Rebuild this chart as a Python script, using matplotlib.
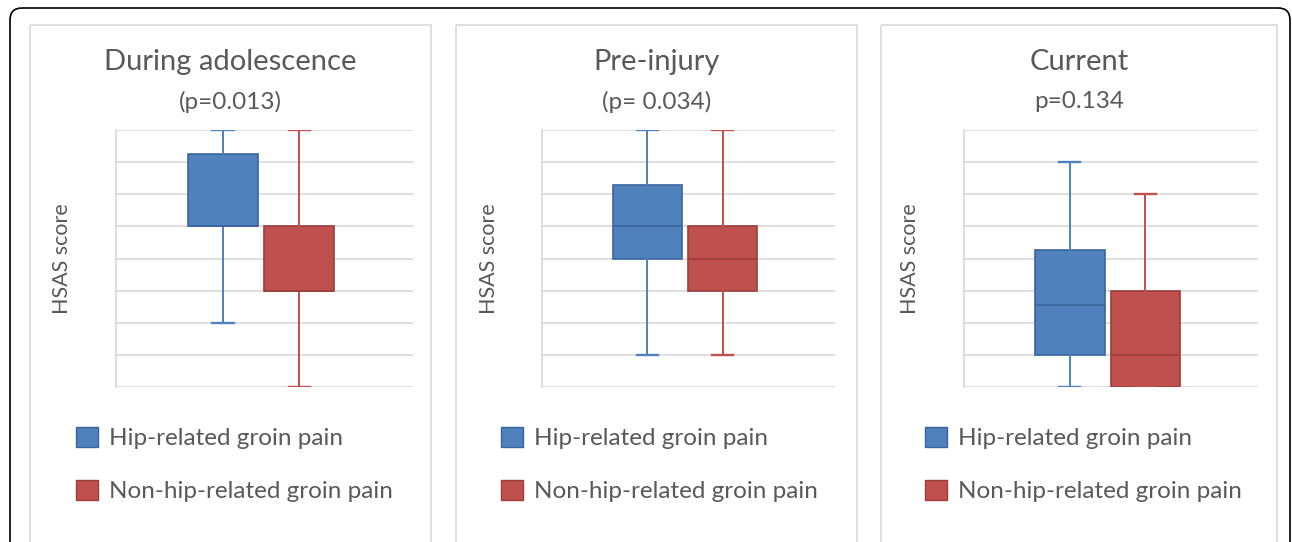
import matplotlib
matplotlib.use('Agg')
import matplotlib.pyplot as plt
from matplotlib.patches import Patch, Rectangle, FancyBboxPatch

plt.rcParams['font.family'] = ['Lato', 'DejaVu Sans']

# HSAS score box plot summaries for each time point
periods = ["During adolescence", "Pre-injury", "Current"]
p_labels = ["(p=0.013)", "(p= 0.034)", "p=0.134"]
groups = ["Hip-related groin pain", "Non-hip-related groin pain"]

hip_whislo = [2, 1, 0]
hip_q1 = [5, 4, 1]
hip_med = [5, 5, 2.55]
hip_q3 = [7.25, 6.3, 4.25]
hip_whishi = [8, 8, 7]

non_whislo = [0, 1, 0]
non_q1 = [3, 3, 0]
non_med = [3, 4, 1]
non_q3 = [5, 5, 3]
non_whishi = [8, 8, 6]

fill_colors = ["#4F81BD", "#C0504D"]
edge_colors = ["#3A659E", "#9B3D3A"]
text_col = "#595959"
grid_col = "#D9D9D9"

W, H = 1292, 542
fig = plt.figure(figsize=(W / 100, H / 100), dpi=100)

# background frame layer in pixel units
bg = fig.add_axes([0, 0, 1, 1], zorder=-1)
bg.set_xlim(0, W)
bg.set_ylim(H, 0)
bg.axis('off')
bg.add_patch(FancyBboxPatch((10, 8), 1280, 600,
                            boxstyle="round,pad=0,rounding_size=12",
                            fill=False, ec="black", lw=1.2))

panel_left = [30, 456, 881]
panel_width = [401, 401, 396]
plot_left = [116, 542, 964]
plot_width = [297, 293, 294]
plot_top, plot_bottom = 130, 387
legend_x = [76, 501, 925]

for i in range(3):
    bg.add_patch(Rectangle((panel_left[i], 25), panel_width[i], 600,
                           fill=False, ec=grid_col, lw=1.2))

    ax = fig.add_axes([plot_left[i] / W, 1 - plot_bottom / H,
                       plot_width[i] / W, (plot_bottom - plot_top) / H])
    stats = [
        dict(whislo=hip_whislo[i], q1=hip_q1[i], med=hip_med[i],
             q3=hip_q3[i], whishi=hip_whishi[i]),
        dict(whislo=non_whislo[i], q1=non_q1[i], med=non_med[i],
             q3=non_q3[i], whishi=non_whishi[i]),
    ]
    for j in range(2):
        ax.bxp([stats[j]], positions=[j + 1], widths=0.92, capwidths=0.28,
               showfliers=False, patch_artist=True,
               boxprops=dict(facecolor=fill_colors[j], edgecolor=edge_colors[j], lw=1.2),
               medianprops=dict(color=edge_colors[j], lw=1.2),
               whiskerprops=dict(color=fill_colors[j], lw=1.4),
               capprops=dict(color=fill_colors[j], lw=1.7),
               zorder=3)

    ax.set_xlim(-0.40, 3.49)
    ax.set_ylim(0, 8)
    ax.set_yticks(range(9))
    ax.set_xticks([])
    ax.tick_params(left=False, labelleft=False)
    ax.yaxis.grid(True, color=grid_col, lw=1.2)
    ax.set_axisbelow(True)
    for s in ['top', 'right', 'bottom']:
        ax.spines[s].set_visible(False)
    ax.spines['left'].set_color(grid_col)
    ax.spines['left'].set_linewidth(1.2)

    ax.set_ylabel("HSAS score", fontsize=15.5, color=text_col)
    ax.yaxis.set_label_coords(-0.148, 0.5)

    cx = (panel_left[i] + panel_width[i] / 2) / W
    fig.text(cx, 1 - 62 / H, periods[i], ha='center', va='center',
             fontsize=21, color=text_col)
    fig.text(cx, 1 - 102 / H, p_labels[i], ha='center', va='center',
             fontsize=17.5, color=text_col)

    handles = [Patch(facecolor=fill_colors[k], edgecolor=edge_colors[k], lw=1,
                     label=groups[k]) for k in range(2)]
    ax.legend(handles=handles, loc='upper left',
              bbox_to_anchor=(legend_x[i] / W, 1 - 427 / H),
              bbox_transform=fig.transFigure, frameon=False,
              fontsize=17.5, labelcolor=text_col, borderpad=0, borderaxespad=0,
              handlelength=0.9, handleheight=0.9, handletextpad=0.45,
              labelspacing=1.25)

fig.savefig("out.png", dpi=100)
